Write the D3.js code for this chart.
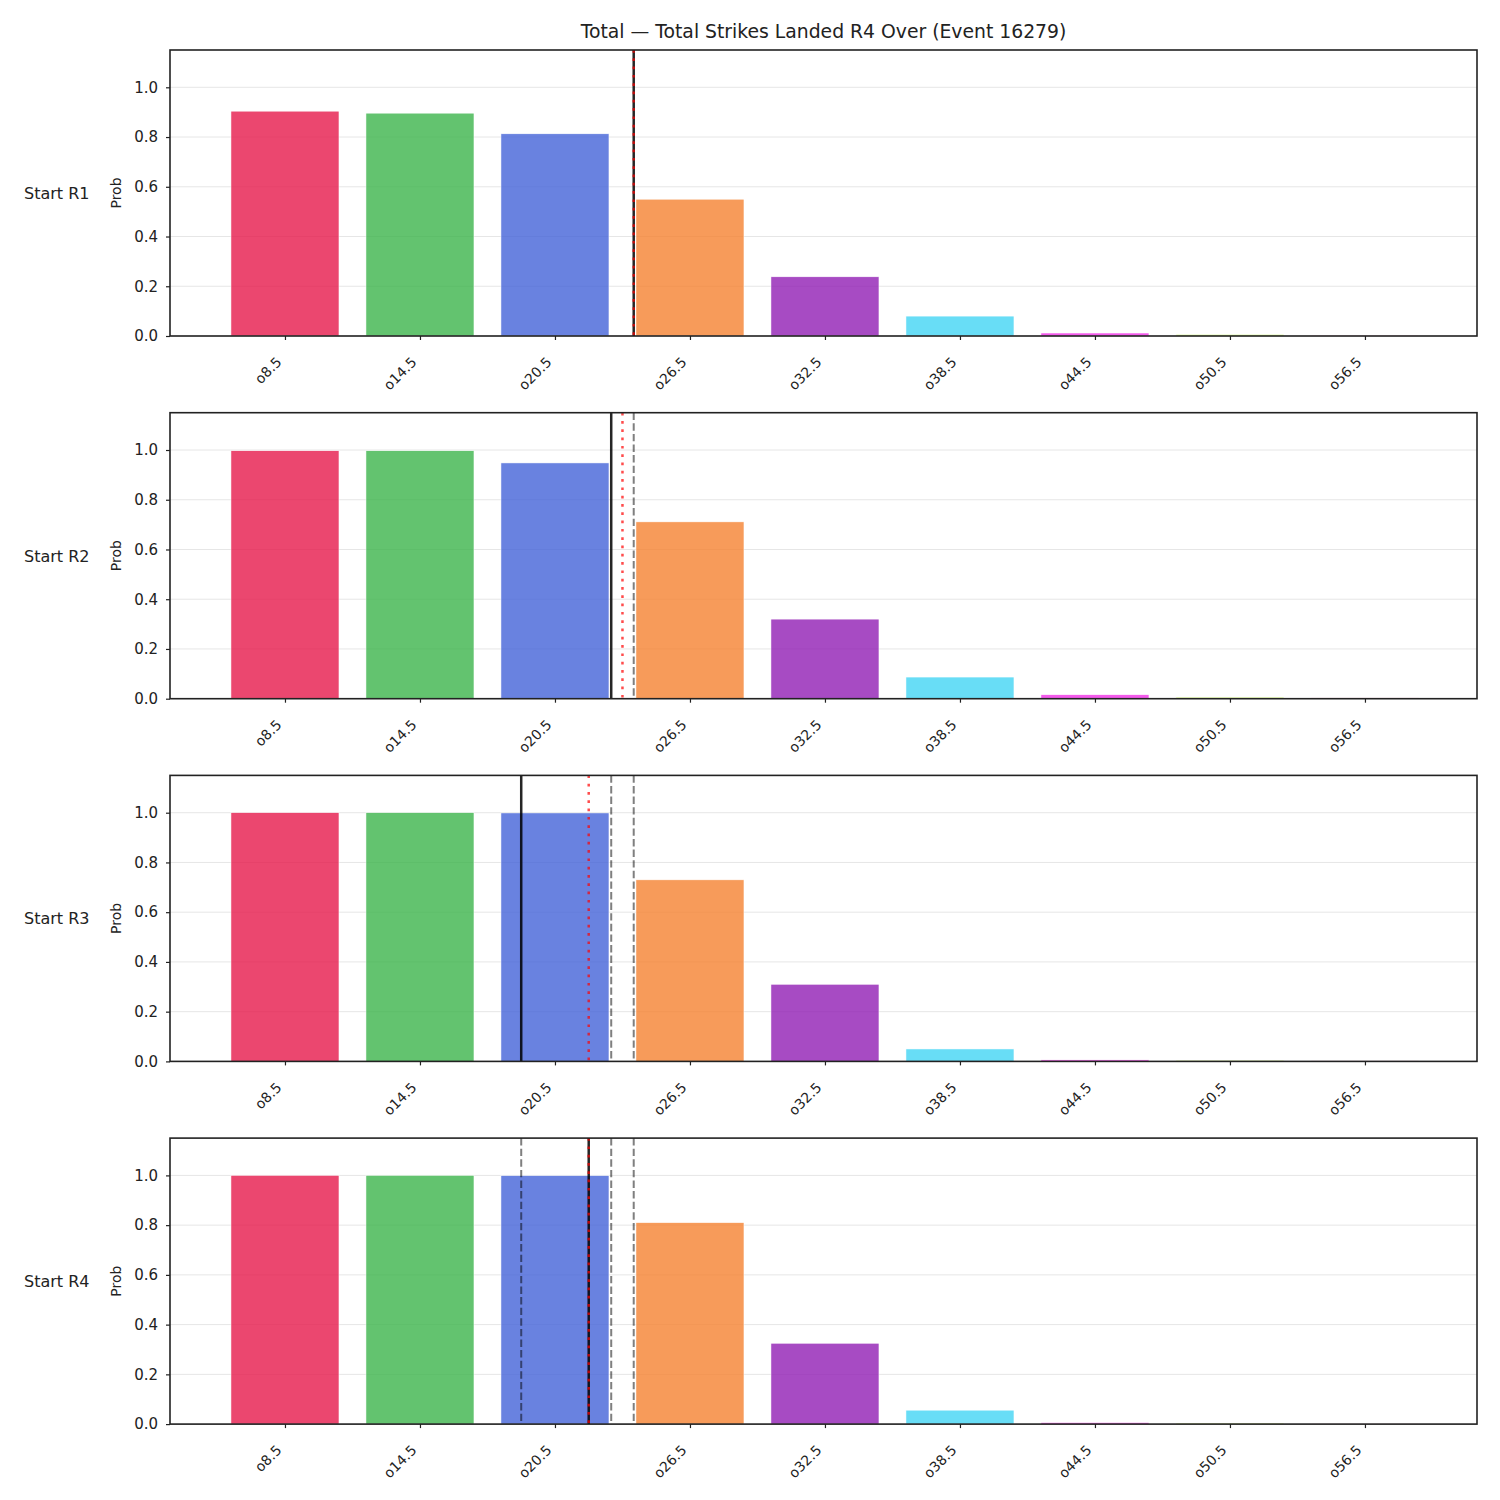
<!DOCTYPE html>
<html>
<head>
<meta charset="utf-8">
<script src="https://cdn.jsdelivr.net/npm/d3@7"></script>
<style>
  body { margin: 0; background: #fff; }
  svg text { font-family: "DejaVu Sans", sans-serif; fill: #222; }
</style>
</head>
<body>
<script>
// chart data
var lines = ["o8.5", "o14.5", "o20.5", "o26.5", "o32.5", "o38.5", "o44.5", "o50.5", "o56.5"]
var lineValues = [8.5, 14.5, 20.5, 26.5, 32.5, 38.5, 44.5, 50.5, 56.5]
var rounds = ["Start R1", "Start R2", "Start R3", "Start R4"]
var probR1 = [0.904, 0.896, 0.813, 0.550, 0.238, 0.080, 0.012, 0.006, 0.004]
var probR2 = [0.997, 0.997, 0.948, 0.711, 0.320, 0.087, 0.016, 0.006, 0.004]
var probR3 = [1.000, 1.000, 0.999, 0.730, 0.310, 0.050, 0.006, 0.004, 0.003]
var probR4 = [1.000, 1.000, 0.999, 0.810, 0.325, 0.056, 0.006, 0.004, 0.003]
var actualMark = [24, 23, 19, 22]        // solid black
var projectedMark = [24, 23.5, 22, 22]   // red dotted
var previousMarks = [[], [24], [23, 24], [19, 23, 24]]  // grey dashed
var yTicks = [0, 0.2, 0.4, 0.6, 0.8, 1.0]
var colors = ["#e6194b", "#3cb44b", "#4363d8", "#f58231", "#911eb4", "#42d4f4", "#f032e6", "#bfef45", "#fabed4"]

var probs = [probR1, probR2, probR3, probR4]

var width = 1500, height = 1500
var left = 170, right = 1477
var panelTop = 50, panelStep = 362.7, panelH = 286

var svg = d3.select("body").append("svg")
    .attr("width", width)
    .attr("height", height)

svg.append("text")
    .attr("x", (left + right) / 2)
    .attr("y", 38)
    .attr("text-anchor", "middle")
    .style("font-size", "18.8px")
    .text("Total — Total Strikes Landed R4 Over (Event 16279)")

var barW = 4.8
var x = d3.scaleLinear()
    .domain([3.39, 61.48])
    .range([left, right])

probs.forEach(function(vals, i){
    var top = panelTop + i * panelStep
    var y = d3.scaleLinear().domain([0, 1.15]).range([top + panelH, top])
    var g = svg.append("g")

    // grid
    g.selectAll(".grid")
        .data(yTicks)
        .enter().append("line")
        .attr("x1", left).attr("x2", right)
        .attr("y1", d => y(d)).attr("y2", d => y(d))
        .attr("stroke", "#e6e6e6")
        .attr("stroke-width", 1)

    // bars
    g.selectAll(".bar")
        .data(vals)
        .enter().append("rect")
        .attr("x", (d, j) => x(lineValues[j] - barW / 2))
        .attr("width", x(barW) - x(0))
        .attr("y", d => y(d))
        .attr("height", d => y(0) - y(d))
        .attr("fill", (d, j) => colors[j])
        .attr("fill-opacity", 0.8)
        .attr("stroke", "#fff")
        .attr("stroke-width", 0.5)

    // previous marks
    g.selectAll(".prev")
        .data(previousMarks[i])
        .enter().append("line")
        .attr("x1", d => x(d)).attr("x2", d => x(d))
        .attr("y1", top).attr("y2", top + panelH)
        .attr("stroke", "#000")
        .attr("stroke-opacity", 0.5)
        .attr("stroke-width", 2)
        .attr("stroke-dasharray", "7.4,3.2")

    g.append("line")
        .attr("x1", x(actualMark[i])).attr("x2", x(actualMark[i]))
        .attr("y1", top).attr("y2", top + panelH)
        .attr("stroke", "#000")
        .attr("stroke-opacity", 0.85)
        .attr("stroke-width", 2.5)

    g.append("line")
        .attr("x1", x(projectedMark[i])).attr("x2", x(projectedMark[i]))
        .attr("y1", top).attr("y2", top + panelH)
        .attr("stroke", "#ff0000")
        .attr("stroke-opacity", 0.7)
        .attr("stroke-width", 2.5)
        .attr("stroke-dasharray", "2.7,5.6")

    // axes
    var yAxis = d3.axisLeft(y).tickValues(yTicks).tickFormat(d3.format(".1f")).tickSize(4).tickPadding(8)
    var ya = g.append("g").attr("transform", "translate(" + left + ",0)").call(yAxis)
    ya.select(".domain").remove()
    ya.selectAll("text").style("font-size", "15px")
    ya.selectAll("line").attr("stroke", "#222").attr("stroke-width", 1.2)

    var xAxis = d3.axisBottom(x).tickValues(lineValues).tickFormat((d, j) => lines[j]).tickSize(4).tickPadding(4)
    var xa = g.append("g").attr("transform", "translate(0," + (top + panelH) + ")").call(xAxis)
    xa.select(".domain").remove()
    xa.selectAll("line").attr("stroke", "#222").attr("stroke-width", 1.2)
    xa.selectAll("text")
        .style("font-size", "13.9px")
        .attr("text-anchor", "end")
        .attr("dy", 0)
        .attr("y", 0)
        .attr("transform", "translate(-3,27) rotate(-45)")

    // frame
    g.append("rect")
        .attr("x", left).attr("y", top)
        .attr("width", right - left).attr("height", panelH)
        .attr("fill", "none")
        .attr("stroke", "#222")
        .attr("stroke-width", 1.6)

    g.append("text")
        .attr("transform", "translate(121," + (top + panelH / 2) + ") rotate(-90)")
        .attr("text-anchor", "middle")
        .style("font-size", "14px")
        .text("Prob")

    g.append("text")
        .attr("x", 24)
        .attr("y", top + panelH / 2 + 6)
        .style("font-size", "16px")
        .text(rounds[i])
})
</script>
</body>
</html>
